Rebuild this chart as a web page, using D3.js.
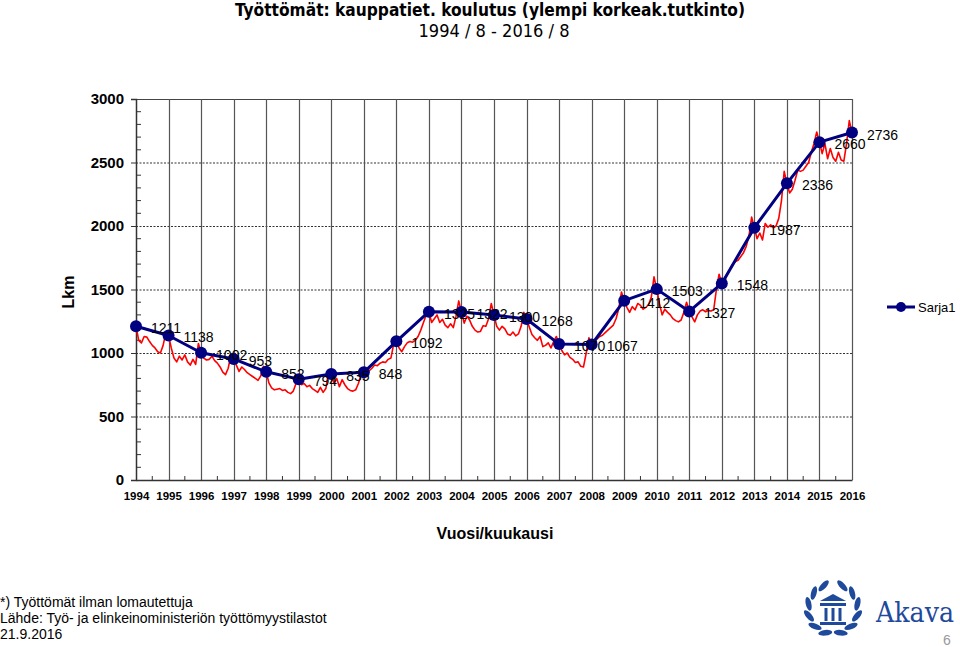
<!DOCTYPE html>
<html>
<head>
<meta charset="utf-8">
<script src="https://cdn.jsdelivr.net/npm/d3@7"></script>
<style>
html,body{margin:0;padding:0;background:#fff;}
svg{display:block;font-family:"Liberation Sans",Arial,Helvetica,sans-serif;}
</style>
</head>
<body>
<svg id="chart" width="960" height="647"></svg>
<script>
// ---- DATA ----
const vuodet = ["1994","1995","1996","1997","1998","1999","2000","2001","2002","2003","2004","2005","2006","2007","2008","2009","2010","2011","2012","2013","2014","2015","2016"];
// Sarja1: August values each year (1994/8 ... 2016/8)
const sarja1 = [1211,1138,1002,953,852,794,835,848,1092,1325,1322,1300,1268,1070,1067,1412,1503,1327,1548,1987,2336,2660,2736];
// Monthly values 1994/8 ... 2016/8
const kuukausittain = [
 1211,
 1100,1080,1130,1125,1090,1060,1040,1010,1000,1060,1160,1138,
 1040,960,930,975,945,985,930,905,950,910,1075,1002,
 960,945,950,975,940,920,890,850,830,880,985,953,
 905,855,890,870,845,830,815,800,785,820,895,852,
 765,725,710,715,720,705,710,690,680,700,760,794,
 750,760,735,745,720,705,690,730,690,720,850,835,
 760,800,735,790,750,720,705,700,710,760,830,848,
 830,860,880,905,900,920,930,925,950,960,1070,1092,
 1040,1010,1050,1080,1090,1085,1100,1130,1180,1240,1300,1325,
 1240,1270,1300,1240,1265,1220,1200,1230,1200,1290,1410,1322,
 1235,1290,1260,1210,1180,1165,1170,1215,1210,1270,1390,1300,
 1210,1180,1210,1190,1150,1140,1165,1135,1150,1210,1320,1268,
 1205,1145,1120,1100,1130,1050,1060,1080,1040,1090,1130,1070,
 1020,985,1000,965,950,925,930,895,890,1000,1120,1067,
 1090,1110,1130,1140,1160,1180,1200,1220,1270,1350,1480,1412,
 1360,1320,1365,1340,1390,1375,1345,1360,1380,1440,1600,1503,
 1390,1300,1345,1320,1300,1270,1255,1245,1260,1320,1400,1327,
 1285,1245,1300,1330,1340,1325,1335,1330,1340,1500,1620,1548,
 1570,1620,1660,1700,1720,1730,1760,1790,1840,1920,2070,1987,
 1900,1945,1890,2020,1990,2010,1985,2000,2060,2200,2430,2336,
 2260,2290,2360,2440,2430,2440,2470,2500,2580,2650,2740,2660,
 2570,2650,2530,2610,2540,2510,2580,2520,2510,2650,2830,2736
];
const yTicks = [0,500,1000,1500,2000,2500,3000];

// ---- LAYOUT ----
const svg = d3.select("#chart");
const L = 136, R = 852, T = 99, B = 480;
const nMonths = kuukausittain.length - 1;
const x = d3.scaleLinear().domain([0, nMonths]).range([L, R]);
const y = d3.scaleLinear().domain([0, 3000]).range([B, T]);

// Title
const narrow = '"Liberation Sans Narrow","DejaVu Sans Condensed","Liberation Sans",Arial,sans-serif';
svg.append("text").attr("x", 490).attr("y", 16).attr("text-anchor","middle")
  .attr("font-family",narrow).attr("font-weight","bold").attr("font-size",18)
  .attr("textLength",510).attr("lengthAdjust","spacingAndGlyphs")
  .text("Työttömät: kauppatiet. koulutus (ylempi korkeak.tutkinto)");
svg.append("text").attr("x", 494).attr("y", 37).attr("text-anchor","middle")
  .attr("font-family",narrow).attr("font-size",18)
  .attr("textLength",151).attr("lengthAdjust","spacingAndGlyphs")
  .text("1994 / 8 - 2016 / 8");

// Horizontal dotted grid
const g = svg.append("g");
g.selectAll("line.hg").data(yTicks.filter(d => d > 0 && d < 3000)).join("line")
  .attr("x1", L).attr("x2", R).attr("y1", d => y(d)+0.5).attr("y2", d => y(d)+0.5)
  .attr("stroke","#333").attr("stroke-width",1).attr("stroke-dasharray","2,1.5");
// top border
g.append("line").attr("x1",L).attr("x2",R).attr("y1",y(3000)+0.5).attr("y2",y(3000)+0.5)
  .attr("stroke","#444").attr("stroke-width",1);

// Vertical grid lines (one per year)
const yearIdx = vuodet.map((d,i) => i*12);
g.selectAll("line.vg").data(yearIdx.slice(1)).join("line")
  .attr("x1", d => Math.round(x(d))+0.5).attr("x2", d => Math.round(x(d))+0.5)
  .attr("y1", T).attr("y2", B)
  .attr("stroke","#555").attr("stroke-width",1.2);

// Y axis
const yAxis = d3.axisLeft(y).tickValues(yTicks).tickSize(5).tickFormat(d3.format("d"));
const ya = svg.append("g").attr("transform",`translate(${L},0)`).call(yAxis);
ya.select(".domain").attr("stroke","#333").attr("stroke-width",1.5);
ya.selectAll(".tick line").attr("stroke","#333");
ya.selectAll(".tick text").attr("font-size",15).attr("font-weight","bold")
  .attr("font-family",'"Liberation Sans",Arial,sans-serif').attr("fill","#000").attr("x",-12);
// y minor ticks (every 100, inward)
const yMinor = d3.range(0, 3001, 100).filter(d => d % 500 !== 0);
svg.append("g").selectAll("line").data(yMinor).join("line")
  .attr("x1", L).attr("x2", L+5).attr("y1", d => y(d)).attr("y2", d => y(d))
  .attr("stroke","#333").attr("stroke-width",1);

// X axis
const xAxis = d3.axisBottom(x).tickValues(yearIdx).tickSize(0)
  .tickFormat((d,i) => vuodet[i]);
const xa = svg.append("g").attr("transform",`translate(0,${B})`).call(xAxis);
xa.select(".domain").attr("stroke","#333").attr("stroke-width",1.5);
xa.selectAll(".tick text").attr("font-size",11.5).attr("font-weight","bold")
  .attr("font-family",'"Liberation Sans",Arial,sans-serif').attr("fill","#000").attr("y",12);
// x minor ticks (half years)
const xMinor = yearIdx.slice(0,-1).map(d => d + 6);
svg.append("g").selectAll("line").data(xMinor).join("line")
  .attr("x1", d => x(d)).attr("x2", d => x(d)).attr("y1", B).attr("y2", B-4)
  .attr("stroke","#333").attr("stroke-width",1);

// Axis titles
svg.append("text").attr("transform","translate(74,292) rotate(-90)").attr("text-anchor","middle")
  .attr("font-size",16).attr("font-weight","bold").text("Lkm");
svg.append("text").attr("x",495).attr("y",539).attr("text-anchor","middle")
  .attr("font-size",16).attr("font-weight","bold").text("Vuosi/kuukausi");

// Red monthly line
const lineM = d3.line().x((d,i) => x(i)).y(d => y(d));
svg.append("path").datum(kuukausittain).attr("d", lineM)
  .attr("fill","none").attr("stroke","#ff0000").attr("stroke-width",1.6).attr("stroke-linejoin","round");

// Blue annual line
const lineY = d3.line().x((d,i) => x(i*12)).y(d => y(d));
svg.append("path").datum(sarja1).attr("d", lineY)
  .attr("fill","none").attr("stroke","#000080").attr("stroke-width",3).attr("stroke-linejoin","round");
svg.append("g").selectAll("circle").data(sarja1).join("circle")
  .attr("cx",(d,i) => x(i*12)).attr("cy", d => y(d)).attr("r",6).attr("fill","#000080");

// Data labels
svg.append("g").selectAll("text").data(sarja1).join("text")
  .attr("x",(d,i) => x(i*12)+15).attr("y", d => y(d)+7)
  .attr("font-size",14).attr("fill","#000").text(d => d);

// Legend
const lg = svg.append("g");
lg.append("line").attr("x1",887).attr("x2",915).attr("y1",307).attr("y2",307)
  .attr("stroke","#000080").attr("stroke-width",3);
lg.append("circle").attr("cx",901).attr("cy",307).attr("r",5).attr("fill","#000080");
lg.append("text").attr("x",918).attr("y",312).attr("font-size",13).text("Sarja1");

// Footer
const ft = svg.append("g").attr("font-size",14).attr("fill","#000");
ft.append("text").attr("x",0).attr("y",607).text("*) Työttömät ilman lomautettuja");
ft.append("text").attr("x",0).attr("y",623).text("Lähde: Työ- ja elinkeinoministeriön työttömyystilastot");
ft.append("text").attr("x",0).attr("y",639).text("21.9.2016");

// Akava logo
const blue = "#1f4a9c";
const logo = svg.append("g").attr("fill", blue);
const cx = 833, cy = 609, rr = 25;
const leftAngles = [112, 140, 168, 196, 224, 252];
leftAngles.forEach(a => {
  [a, 180 - a].forEach((ang, s) => {
    const rad = ang * Math.PI/180;
    const lx = cx + rr*Math.cos(rad), ly = cy - rr*Math.sin(rad);
    // tangent direction (pointing upward along the wreath), tilted outward
    const tang = s === 0 ? ang - 90 : ang + 90;
    const dir = s === 0 ? tang + 25 : tang - 25;
    const rot = -dir - 90;
    logo.append("ellipse").attr("cx",lx).attr("cy",ly).attr("rx",2.8).attr("ry",7)
      .attr("transform",`rotate(${rot},${lx},${ly})`);
  });
});
// column
logo.append("path").attr("d",`M${cx-13},${cy-8} L${cx},${cy-15} L${cx+13},${cy-8} Z`);
logo.append("rect").attr("x",cx-13).attr("y",cy-6).attr("width",26).attr("height",3);
[-7,0,7].forEach(dx => logo.append("rect").attr("x",cx+dx-1.5).attr("y",cy-1).attr("width",3).attr("height",13));
logo.append("rect").attr("x",cx-13).attr("y",cy+13).attr("width",26).attr("height",3);
svg.append("text").attr("x",876).attr("y",622).attr("font-family",'"DejaVu Serif","Liberation Serif",serif')
  .attr("font-size",27).attr("fill",blue).attr("textLength",78).attr("lengthAdjust","spacingAndGlyphs").text("Akava");
svg.append("text").attr("x",943).attr("y",645).attr("font-size",14).attr("fill","#999").text("6");
</script>
</body>
</html>
